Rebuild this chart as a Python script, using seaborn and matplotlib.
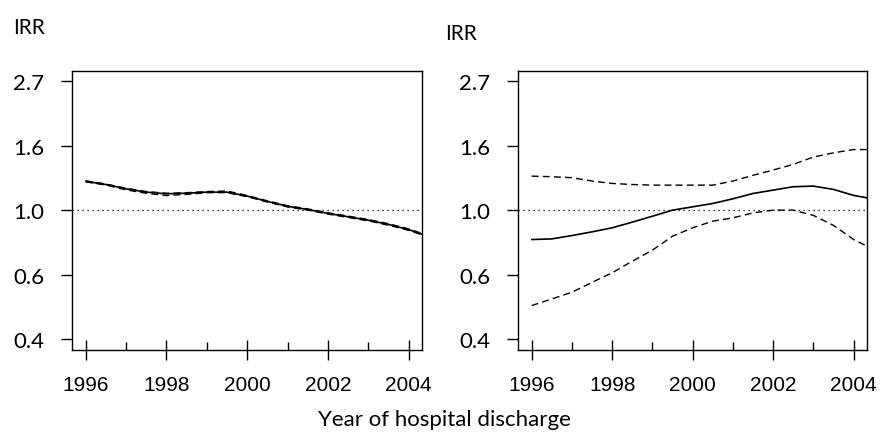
import numpy as np
import pandas as pd
import matplotlib
matplotlib.use("Agg")
import matplotlib.pyplot as plt
import seaborn as sns

# --- Data ---
years = [1996, 1996.5, 1997, 1997.5, 1998, 1998.5, 1999, 1999.5, 2000,
         2000.5, 2001, 2001.5, 2002, 2002.5, 2003, 2003.5, 2004, 2004.33]

left_irr = [1.25, 1.22, 1.18, 1.15, 1.135, 1.14, 1.15, 1.15, 1.115,
            1.07, 1.03, 1.005, 0.975, 0.95, 0.925, 0.895, 0.86, 0.83]
left_lower = [1.245, 1.215, 1.17, 1.14, 1.12, 1.13, 1.145, 1.145, 1.11,
              1.065, 1.025, 1.0, 0.97, 0.945, 0.92, 0.89, 0.855, 0.825]
left_upper = [1.255, 1.225, 1.185, 1.155, 1.14, 1.145, 1.155, 1.16, 1.12,
              1.075, 1.035, 1.01, 0.98, 0.955, 0.93, 0.9, 0.865, 0.835]

right_irr = [0.796, 0.80, 0.821, 0.845, 0.872, 0.911, 0.954, 1.0, 1.026,
             1.053, 1.092, 1.138, 1.168, 1.199, 1.205, 1.174, 1.121, 1.10]
right_lower = [0.477, 0.502, 0.529, 0.571, 0.615, 0.673, 0.733, 0.817, 0.872,
               0.918, 0.942, 0.979, 1.0, 1.0, 0.96, 0.888, 0.796, 0.756]
right_upper = [1.302, 1.296, 1.286, 1.253, 1.23, 1.22, 1.214, 1.214, 1.214,
               1.214, 1.253, 1.31, 1.365, 1.426, 1.51, 1.56, 1.60, 1.60]

ytick_vals = np.exp([-1, -0.5, 0, 0.5, 1])
ytick_labels = ["0.4", "0.6", "1.0", "1.6", "2.7"]
xtick_major = [1996, 1998, 2000, 2002, 2004]
xtick_minor = [1997, 1999, 2001, 2003]

sns.set_style("ticks")
plt.rcParams["font.family"] = ["Lato", "DejaVu Sans"]
plt.rcParams["text.color"] = "black"

fig = plt.figure(figsize=(8.88, 4.35), dpi=100)
ax1 = fig.add_axes([0.0811, 0.1931, 0.394, 0.641])
ax2 = fig.add_axes([0.5833, 0.1931, 0.393, 0.641])

panels = [
    (ax1, left_irr, left_lower, left_upper),
    (ax2, right_irr, right_lower, right_upper),
]

for ax, est, lo, hi in panels:
    df = pd.DataFrame({"year": years, "est": est, "lo": lo, "hi": hi})
    sns.lineplot(data=df, x="year", y="lo", ax=ax, color="black",
                 linewidth=1.0, linestyle=(0, (5, 3)))
    sns.lineplot(data=df, x="year", y="hi", ax=ax, color="black",
                 linewidth=1.0, linestyle=(0, (5, 3)))
    sns.lineplot(data=df, x="year", y="est", ax=ax, color="black",
                 linewidth=1.2)
    ax.axhline(1.0, color="black", linewidth=0.9, linestyle=(0, (1, 3)))

    ax.set_yscale("log")
    ax.set_ylim(np.exp(-1.085), np.exp(1.078))
    ax.set_xlim(1995.66, 2004.33)
    ax.set_yticks(ytick_vals)
    ax.set_yticklabels(ytick_labels, fontsize=16, color="black")
    ax.yaxis.set_minor_locator(matplotlib.ticker.NullLocator())
    ax.set_xticks(xtick_major)
    ax.set_xticks(xtick_minor, minor=True)
    ax.set_xticklabels([str(y) for y in xtick_major],
                       family=["Liberation Sans", "DejaVu Sans"],
                       fontsize=15, color="black")
    ax.tick_params(axis="y", direction="out", length=8, width=1,
                   pad=12, colors="black")
    ax.tick_params(axis="x", which="major", direction="inout", length=14,
                   width=1, pad=11, colors="black")
    ax.tick_params(axis="x", which="minor", direction="in", length=6,
                   width=1, colors="black")
    ax.set_xlabel("")
    ax.set_ylabel("")
    for s in ax.spines.values():
        s.set_visible(True)
        s.set_linewidth(1.0)
        s.set_color("black")

fig.text(13 / 888, 1 - 28 / 435, "IRR", fontsize=15, va="center", ha="left")
fig.text(445 / 888, 1 - 34 / 435, "IRR", fontsize=15, va="center", ha="left")
fig.text(0.5, 1 - 420 / 435, "Year of hospital discharge", fontsize=16,
         ha="center", va="center", color="black")

fig.savefig("out.png", dpi=100, facecolor="white")
